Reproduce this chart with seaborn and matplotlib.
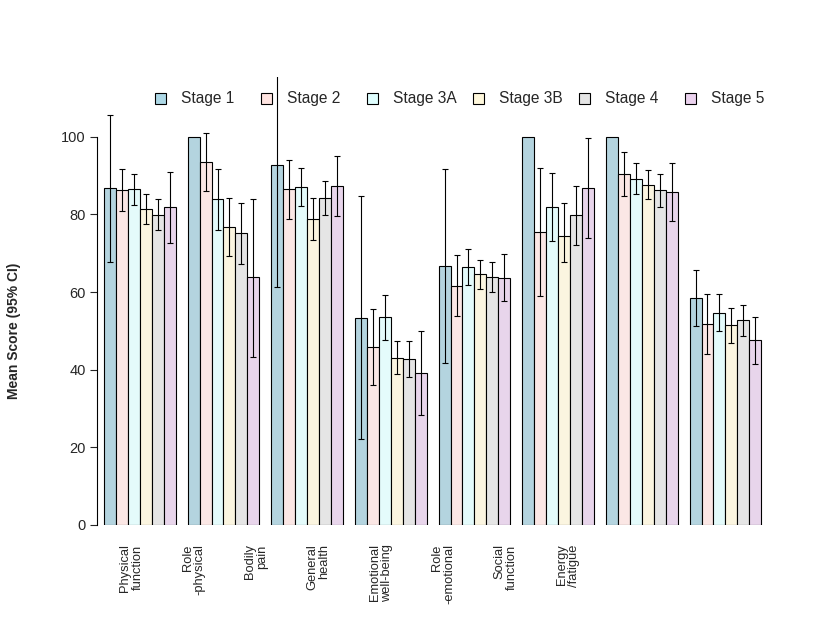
import numpy as np
import pandas as pd
import seaborn as sns
import matplotlib
matplotlib.use("Agg")
from matplotlib import pyplot as plt
from matplotlib.patches import Patch

domains = ["Physical\nfunction", "Role\n-physical", "Bodily\npain", "General\nhealth",
           "Emotional\nwell-being", "Role\n-emotional", "Social\nfunction", "Energy\n/fatigue"]
stages = ["Stage 1", "Stage 2", "Stage 3A", "Stage 3B", "Stage 4", "Stage 5"]
colors = ["#ADD8E6", "#FFE4E1", "#E0FFFF", "#FFF8DC", "#E5E5E5", "#EBD2EE"]

# mean scores and 95% CI per stage (one value per domain), nan = no CI drawn
stage1 = [86.8, 100.0, 92.8, 53.3, 66.7, 100.0, 100.0, 58.4]
lo1 = [67.7, np.nan, 61.3, 22.1, 41.7, np.nan, np.nan, 51.2]
hi1 = [105.7, np.nan, 118.0, 84.7, 91.7, np.nan, np.nan, 65.6]

stage2 = [86.3, 93.6, 86.6, 45.8, 61.5, 75.4, 90.4, 51.7]
lo2 = [80.8, 86.0, 78.8, 36.1, 53.8, 59.0, 84.7, 44.0]
hi2 = [91.8, 101.0, 94.1, 55.6, 69.5, 91.9, 96.1, 59.5]

stage3a = [86.5, 84.0, 87.0, 53.6, 66.4, 81.9, 89.1, 54.6]
lo3a = [82.3, 76.1, 82.2, 47.6, 61.8, 73.1, 85.2, 49.9]
hi3a = [90.5, 91.7, 91.9, 59.2, 71.1, 90.6, 93.2, 59.5]

stage3b = [81.4, 76.8, 78.8, 43.0, 64.6, 74.4, 87.6, 51.5]
lo3b = [77.5, 69.3, 73.4, 38.8, 60.7, 67.8, 84.0, 46.8]
hi3b = [85.2, 84.3, 84.3, 47.3, 68.2, 82.9, 91.4, 55.8]

stage4 = [79.8, 75.2, 84.3, 42.7, 63.8, 79.8, 86.3, 52.8]
lo4 = [75.9, 67.2, 79.8, 38.0, 60.0, 72.1, 81.9, 48.7]
hi4 = [84.0, 82.9, 88.6, 47.3, 67.7, 87.3, 90.4, 56.6]

stage5 = [81.9, 63.8, 87.4, 39.1, 63.6, 86.8, 85.7, 47.6]
lo5 = [72.6, 43.4, 79.6, 28.4, 57.7, 73.9, 78.3, 41.4]
hi5 = [90.9, 84.0, 95.0, 49.9, 69.8, 99.7, 93.2, 53.5]

means = [stage1, stage2, stage3a, stage3b, stage4, stage5]
lows = [lo1, lo2, lo3a, lo3b, lo4, lo5]
highs = [hi1, hi2, hi3a, hi3b, hi4, hi5]

# the x labels sit on their own (narrower) spacing in the original
label_pos = [-0.10 + 0.745 * i for i in range(len(domains))]

sns.set_style("white")
plt.rcParams['font.family'] = ['Liberation Sans', 'DejaVu Sans']

rows = []
for s, vals in zip(stages, means):
    for d, v in zip(domains, vals):
        rows.append({"domain": d, "stage": s, "score": v})
df = pd.DataFrame(rows)

fig = plt.figure(figsize=(8.27, 6.23), dpi=100)
ax = fig.add_axes([97 / 827, 1 - 525 / 623, 678.6 / 827, (525 - 77) / 623])

n = len(stages)
width = 6 / 7
sns.barplot(data=df, x="domain", y="score", hue="stage", palette=colors, width=width, gap=0,
            edgecolor="black", linewidth=0.8, errorbar=None, legend=False, ax=ax)

for j in range(n):
    m = np.array(means[j])
    lo = np.array(lows[j])
    hi = np.array(highs[j])
    xs = np.arange(len(domains)) - width / 2 + (j + 0.5) * width / n
    ok = ~np.isnan(lo)
    ax.errorbar(xs[ok], m[ok], yerr=[m[ok] - lo[ok], hi[ok] - m[ok]], fmt="none",
                ecolor="black", elinewidth=0.8, capsize=2.2, capthick=0.8)

ax.set_xlim(-0.512, 7.6)
ax.set_ylim(0, 115.4)
ax.set_yticks([0, 20, 40, 60, 80, 100])
ax.tick_params(axis="y", labelsize=10.5, length=5, width=0.8, direction="out", left=True, pad=3)
ax.set_xticks(label_pos)
ax.set_xticklabels(domains, rotation=90, fontsize=9.3, ha="center", va="top",
                   multialignment="right", linespacing=1.0)
ax.tick_params(axis="x", length=0, pad=14)
ax.set_xlabel("")
ax.set_ylabel("")
for sp in ["top", "right", "bottom"]:
    ax.spines[sp].set_visible(False)
ax.spines["left"].set_bounds(0, 100)
ax.spines["left"].set_linewidth(0.8)
ax.spines["left"].set_color("black")

fig.text(14 / 827, 1 - 331 / 623, "Mean Score (95% CI)", rotation=90, ha="center", va="center",
         fontsize=10, fontweight="bold")

# one legend per entry so the entries keep an even spacing
for k, (c, s) in enumerate(zip(colors, stages)):
    fig.legend([Patch(facecolor=c, edgecolor="black", linewidth=0.8)], [s],
               loc="center left", bbox_to_anchor=((155 + 106 * k) / 827, 1 - 99 / 623),
               frameon=False, fontsize=11.2,
               handlelength=0.7, handleheight=0.7, handletextpad=1.0,
               borderpad=0, borderaxespad=0)

plt.savefig("out.png", dpi=100)
